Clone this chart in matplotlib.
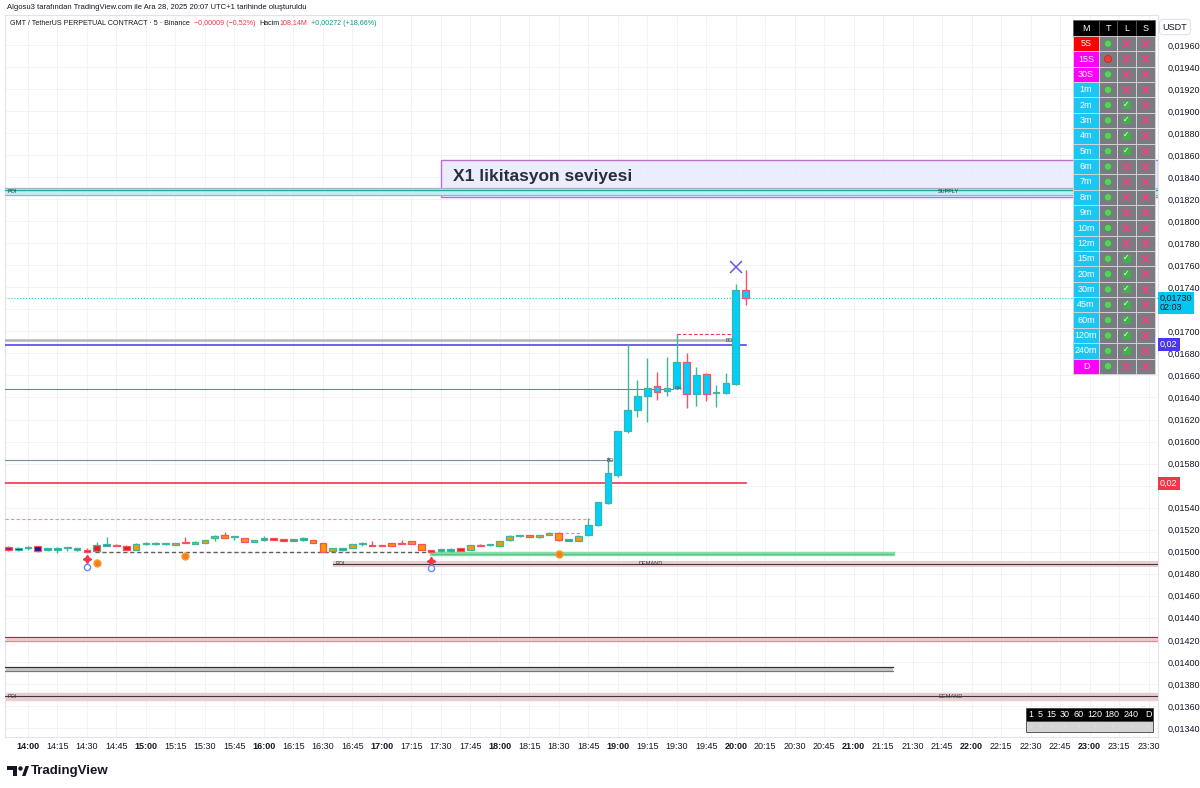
import matplotlib.pyplot as plt
from matplotlib.patches import Rectangle, Circle, Polygon
from matplotlib.transforms import blended_transform_factory
import numpy as np

plt.rcParams['font.family'] = ['Liberation Sans', 'DejaVu Sans']

W, H = 1200, 788

# 5 dakikalik mumlar, bar 0 = 14:00
bars = np.arange(-2, 74)
opens = [0.01504, 0.01502, 0.01503, 0.01505, 0.01502, 0.01502, 0.01503, 0.01502, 0.01501, 0.01501,
         0.01505, 0.01506, 0.01505, 0.01502, 0.01507, 0.01507, 0.01507, 0.01506, 0.01509, 0.01507,
         0.01508, 0.01512, 0.01515, 0.01513, 0.01512, 0.01509, 0.01511, 0.01512, 0.01511, 0.01510,
         0.01511, 0.01511, 0.01508, 0.01501, 0.01502, 0.01503, 0.01507, 0.01506, 0.01506, 0.01508,
         0.01508, 0.01510, 0.01507, 0.01502, 0.01501, 0.01501, 0.01503, 0.01502, 0.01506, 0.01506,
         0.01505, 0.01511, 0.01514, 0.01515, 0.01513, 0.01515, 0.01517, 0.01510, 0.01510, 0.01515,
         0.01524, 0.01544, 0.01570, 0.01610, 0.01629, 0.01641, 0.01650, 0.01646, 0.01649, 0.01672,
         0.01643, 0.01661, 0.01644, 0.01644, 0.01652, 0.01738]
highs = [0.01505, 0.01504, 0.01505, 0.01505, 0.01503, 0.01504, 0.01504, 0.01503, 0.01503, 0.01509,
         0.01513, 0.01507, 0.01506, 0.01508, 0.01509, 0.01509, 0.01508, 0.01508, 0.01513, 0.01510,
         0.01511, 0.01515, 0.01518, 0.01514, 0.01512, 0.01511, 0.01514, 0.01512, 0.01511, 0.01511,
         0.01513, 0.01511, 0.01508, 0.01503, 0.01503, 0.01507, 0.01509, 0.01510, 0.01506, 0.01508,
         0.01511, 0.01510, 0.01507, 0.01502, 0.01502, 0.01503, 0.01503, 0.01506, 0.01507, 0.01506,
         0.01510, 0.01515, 0.01515, 0.01515, 0.01515, 0.01518, 0.01518, 0.01511, 0.01515, 0.01531,
         0.01545, 0.01586, 0.01610, 0.01689, 0.01656, 0.01676, 0.01663, 0.01677, 0.01698, 0.01680,
         0.01668, 0.01662, 0.01651, 0.01662, 0.01743, 0.01756]
lows = [0.01501, 0.01501, 0.01502, 0.01500, 0.01501, 0.01499, 0.01501, 0.01501, 0.01499, 0.01501,
        0.01505, 0.01505, 0.01502, 0.01502, 0.01506, 0.01506, 0.01506, 0.01506, 0.01508, 0.01507,
        0.01508, 0.01510, 0.01512, 0.01511, 0.01509, 0.01509, 0.01510, 0.01511, 0.01510, 0.01510,
        0.01510, 0.01508, 0.01500, 0.01501, 0.01501, 0.01503, 0.01505, 0.01505, 0.01505, 0.01505,
        0.01507, 0.01507, 0.01502, 0.01499, 0.01500, 0.01500, 0.01501, 0.01502, 0.01505, 0.01505,
        0.01505, 0.01510, 0.01513, 0.01513, 0.01512, 0.01515, 0.01510, 0.01510, 0.01510, 0.01514,
        0.01523, 0.01543, 0.01568, 0.01608, 0.01622, 0.01618, 0.01638, 0.01641, 0.01648, 0.01630,
        0.01632, 0.01637, 0.01631, 0.01643, 0.01651, 0.01724]
closes = [0.01502, 0.01503, 0.01504, 0.01501, 0.01502, 0.01502, 0.01503, 0.01502, 0.01500, 0.01506,
          0.01507, 0.01505, 0.01502, 0.01507, 0.01507, 0.01507, 0.01507, 0.01508, 0.01508, 0.01509,
          0.01511, 0.01514, 0.01512, 0.01513, 0.01509, 0.01511, 0.01511, 0.01511, 0.01510, 0.01511,
          0.01511, 0.01508, 0.01500, 0.01503, 0.01502, 0.01507, 0.01507, 0.01505, 0.01505, 0.01505,
          0.01507, 0.01507, 0.01502, 0.01500, 0.01501, 0.01501, 0.01501, 0.01506, 0.01505, 0.01506,
          0.01510, 0.01514, 0.01515, 0.01513, 0.01515, 0.01517, 0.01511, 0.01510, 0.01514, 0.01524,
          0.01545, 0.01571, 0.01610, 0.01629, 0.01641, 0.01649, 0.01645, 0.01649, 0.01672, 0.01643,
          0.01660, 0.01643, 0.01645, 0.01653, 0.01738, 0.01730]
body_kind = ['p', 'n', 'n', 'n', 't', 't', 't', 't', 'r', 'r',
             'm', 'r', 'r', 'o', 't', 't', 't', 'o', 'r', 'o',
             'o', 'o', 'o', 't', 'o', 'o', 't', 'r', 'r', 'g',
             't', 'o', 'o', 'o', 't', 'o', 't', 'r', 'r', 'o',
             'r', 'o', 'o', 'r', 't', 't', 'r', 'o', 'r', 't',
             'o', 'o', 'g', 'o', 'o', 'o', 'o', 't', 'o', 'c',
             'c', 'c', 'c', 'c', 'c', 'c', 'c', 'c', 'c', 'c',
             'c', 'c', 'c', 'c', 'c', 'c']

time_labels = ['14:00', '14:15', '14:30', '14:45', '15:00', '15:15', '15:30', '15:45',
               '16:00', '16:15', '16:30', '16:45', '17:00', '17:15', '17:30', '17:45',
               '18:00', '18:15', '18:30', '18:45', '19:00', '19:15', '19:30', '19:45',
               '20:00', '20:15', '20:30', '20:45', '21:00', '21:15', '21:30', '21:45',
               '22:00', '22:15', '22:30', '22:45', '23:00', '23:15', '23:30']
price_ticks = [0.0134, 0.0136, 0.0138, 0.0140, 0.0142, 0.0144, 0.0146, 0.0148, 0.0150, 0.0152,
               0.0154, 0.0156, 0.0158, 0.0160, 0.0162, 0.0164, 0.0166, 0.0168, 0.0170, 0.0172,
               0.0174, 0.0176, 0.0178, 0.0180, 0.0182, 0.0184, 0.0186, 0.0188, 0.0190, 0.0192,
               0.0194, 0.0196]
hidden_ticks = [0.0156, 0.0172]   # fiyat etiketlerinin altinda kalanlar

# seviyeler
last_price = 0.01730
liq_box = (0.01822, 0.01856)
supply_band = (0.01824, 0.01830)
bo_level_hi = 0.01692
purple_level = 0.01688
zero_level = 0.01648
bo_level_lo = 0.01583
red_level = 0.01562
pink_level = 0.01530
mid_dash_level = 0.01517
gray_dash_level = 0.01500
green_level = 0.01498
demand_band = (0.01486, 0.01492)
red_band = (0.01419, 0.01423)
black_band = (0.01392, 0.01395)
demand_band_lo = (0.01365, 0.01372)
red_box_top = 0.01698

# tablo
tf_labels = ['5S', '15S', '30S', '1m', '2m', '3m', '4m', '5m', '6m', '7m', '8m', '9m',
             '10m', '12m', '15m', '20m', '30m', '45m', '60m', '120m', '240m', 'D']
trend_ok = [1, 0, 1, 1, 1, 1, 1, 1, 1, 1, 1, 1, 1, 1, 1, 1, 1, 1, 1, 1, 1, 1]
long_ok = [0, 0, 0, 0, 1, 1, 1, 1, 0, 0, 0, 0, 0, 0, 1, 1, 1, 1, 1, 1, 1, 0]
short_ok = [0] * 22
mini_tf = ['1', '5', '15', '30', '60', '120', '180', '240', 'D']

fills = {'p': '#7d1f7c', 'n': '#1c1a8c', 't': '#26a69a', 'r': '#f21818', 'm': '#ff12e4',
         'o': '#ff9800', 'g': '#6f9a2b', 'c': '#00d0ff'}
UP, DN = '#3fb59d', '#f7525f'

fig = plt.figure(figsize=(W / 100, H / 100), dpi=100)
ax = fig.add_axes([5 / W, 1 - 737 / H, 1153 / W, 722 / H])
ax.set_xlim((5 - 28) / 9.83, (1158 - 28) / 9.83)
ax.set_ylim(0.013318, 0.019872)

o = np.array(opens); c = np.array(closes)
edge = [UP if cc > oo else (DN if cc < oo else UP) for oo, cc in zip(o, c)]
bottoms = np.minimum(o, c)
heights = np.maximum(np.abs(c - o), 0.000012)
ax.vlines(bars, lows, highs, colors=edge, lw=1, zorder=4)
ax.bar(bars, heights, bottom=bottoms, width=0.68, color=[fills[k] for k in body_kind],
       edgecolor=edge, linewidth=0.9, zorder=5)

x0, x1 = ax.get_xlim()
# likidasyon kutusu
ax.add_patch(Rectangle((42.0, liq_box[0]), x1 - 42.0, liq_box[1] - liq_box[0],
                       fc='#e9ebfc', ec='#b160cc', lw=1, alpha=0.9, zorder=2))
ax.text(43.2, (liq_box[0] + liq_box[1]) / 2 + 0.00002, 'X1 likitasyon seviyesi', fontsize=12.5,
        fontweight='bold', color='#2a2e39', va='center', zorder=6)
# supply
ax.axhspan(supply_band[0], supply_band[1], color='#bfeef3', zorder=2.5)
ax.axhline(supply_band[1], color='#9fb4b8', lw=0.8, zorder=2.6)
ax.axhline(0.01828, color='#2aa7a7', lw=1, zorder=2.6)
ax.axhline(supply_band[0], color='#9fb4b8', lw=0.8, zorder=2.6)
ax.text(-2.1, 0.01827, 'POI', fontsize=4, color='#333', va='center', zorder=6)
ax.text(92.6, 0.01827, 'SUPPLY', fontsize=4, color='#333', va='center', zorder=6)

ax.axhline(last_price, color='#26c6da', lw=0.8, ls=':', zorder=2)
ax.plot([66, 72], [red_box_top, red_box_top], color='#f23645', lw=0.8, ls=(0, (3, 2)), zorder=3)
ax.plot([66, 66], [red_box_top, bo_level_hi], color='#f23645', lw=0.8, ls=(0, (3, 2)), zorder=3)
ax.plot([x0, 72], [bo_level_hi, bo_level_hi], color='#b0b5ba', lw=1.8, zorder=3)
ax.text(71.4, bo_level_hi, 'BO', fontsize=3.8, color='#444', va='center', ha='center', zorder=6)
ax.plot([x0, 73], [purple_level, purple_level], color='#5546e6', lw=1.2, zorder=3)
ax.plot([x0, 65.6], [zero_level, zero_level], color='#6f8a85', lw=0.8, zorder=3)
ax.text(65.8, zero_level, '0%', fontsize=3.8, color='#444', va='center', zorder=6)
ax.plot([x0, 59.4], [bo_level_lo, bo_level_lo], color='#6d8f9c', lw=0.8, zorder=3)
ax.text(59.2, bo_level_lo, 'BO', fontsize=3.8, color='#444', va='center', ha='center', zorder=6)
ax.plot([x0, 73], [red_level, red_level], color='#f23645', lw=1.2, zorder=3)
ax.plot([x0, 57.2], [pink_level, pink_level], color='#f28b95', lw=0.8, ls=(0, (3, 2)), zorder=3)
ax.plot([53.5, 56.2], [mid_dash_level, mid_dash_level], color='#a99be8', lw=0.8, ls=(0, (3, 2)), zorder=3)
ax.plot([6.8, 41.1], [gray_dash_level, gray_dash_level], color='#5e5e5e', lw=1, ls=(0, (3, 2)), zorder=3)
ax.plot([41.1, 88], [green_level, green_level], color='#86dba6', lw=3.2, zorder=3)
ax.plot([41.1, 88], [green_level, green_level], color='#4cc27c', lw=0.6, zorder=3)
# demand bantlari
ax.add_patch(Rectangle((31.0, demand_band[0]), x1 - 31.0, demand_band[1] - demand_band[0],
                       fc='#eacdd0', ec='none', zorder=2.5))
ax.plot([31.0, x1], [0.014889, 0.014889], color='#3a3a3a', lw=0.8, zorder=2.6)
ax.text(31.3, 0.014889, 'POI', fontsize=4, color='#333', va='center', zorder=6)
ax.text(62.1, 0.014889, 'DEMAND', fontsize=4, color='#333', va='center', zorder=6)
ax.axhspan(red_band[0], red_band[1], color='#f4c9cd', zorder=2.5)
ax.axhline(red_band[1], color='#8a3a44', lw=0.8, zorder=2.6)
ax.axhline(red_band[0], color='#e08a94', lw=0.8, zorder=2.6)
ax.add_patch(Rectangle((x0, black_band[0]), 88 - x0, black_band[1] - black_band[0],
                       fc='#c9c9c9', ec='none', zorder=2.5))
ax.plot([x0, 88], [black_band[1], black_band[1]], color='#333', lw=0.9, zorder=2.6)
ax.plot([x0, 88], [black_band[0], black_band[0]], color='#777', lw=0.9, zorder=2.6)
ax.axhspan(demand_band_lo[0], demand_band_lo[1], color='#eacdd0', zorder=2.5)
ax.axhline(0.013686, color='#3a3a3a', lw=0.8, zorder=2.6)
ax.text(-2.1, 0.013686, 'POI', fontsize=4, color='#333', va='center', zorder=6)
ax.text(92.6, 0.013686, 'DEMAND', fontsize=4, color='#333', va='center', zorder=6)

# sinyal isaretleri
ax.plot([72], [0.01758], marker='x', ms=8, mew=1.1, color='#6a5ae0', zorder=6)
ax.plot([6, 41], [0.01493, 0.01492], ls='none', marker=(4, 1, 0), ms=6, color='#f23645', zorder=6)
ax.plot([6, 41], [0.01486, 0.01485], ls='none', marker='o', ms=4.5, mfc='white', mec='#5c8dff',
        mew=1, zorder=6)
ax.plot([7, 16, 54], [0.01490, 0.01496, 0.01498], ls='none', marker='o', ms=5,
        color='#ff7a1a', mec='#f0a030', zorder=6)

# eksenler
ax.set_xticks(np.arange(0, 115, 3))
ax.set_xticklabels(time_labels)
for lab in ax.get_xticklabels():
    if lab.get_text().endswith(':00'):
        lab.set_fontweight('bold')
ax.tick_params(axis='x', length=0, pad=3.5, labelsize=6.5, labelcolor='#131722')
ax.yaxis.tick_right()
ax.set_yticks(price_ticks)
ax.set_yticklabels(['' if any(abs(v - h) < 1e-9 for h in hidden_ticks)
                    else f'{v:.5f}'.replace('.', ',') for v in price_ticks])
ax.tick_params(axis='y', length=0, pad=7, labelsize=6.5, labelcolor='#131722')
ax.grid(color='#f1f3f6', lw=0.7, zorder=0)
for s in ax.spines.values():
    s.set_color('#e0e3eb')
    s.set_linewidth(0.8)

# fiyat etiketleri
ov = fig.add_axes([0, 0, 1, 1], zorder=5)
ov.set_xlim(0, W)
ov.set_ylim(H, 0)
ov.axis('off')
ov.patch.set_alpha(0)
tr = blended_transform_factory(ov.transData, ax.transData)
ax.annotate('0,01730\n02:03', xy=(1160, last_price), xycoords=tr, xytext=(0, -3.3),
            textcoords='offset points', fontsize=6.5, color='#131722', va='center', ha='left',
            linespacing=1.05, annotation_clip=False, zorder=7,
            bbox=dict(boxstyle='square,pad=0.2', fc='#00c8f0', ec='none'))
ax.text(1160, purple_level, '0,02', transform=tr, fontsize=6.5, color='white', va='center',
        ha='left', clip_on=False, zorder=7,
        bbox=dict(boxstyle='square,pad=0.25', fc='#4d36f0', ec='none'))
ax.text(1160, red_level, '0,02', transform=tr, fontsize=6.5, color='white', va='center',
        ha='left', clip_on=False, zorder=7,
        bbox=dict(boxstyle='square,pad=0.25', fc='#f23645', ec='none'))
ov.text(1175, 27, 'USDT', fontsize=6.5, color='#131722', ha='center', va='center',
        bbox=dict(boxstyle='round,pad=0.35', fc='white', ec='#e0e3eb', lw=0.8))

# basliklar
fig.canvas.draw()
rend = fig.canvas.get_renderer()
ov.text(7, 7, 'Algosu3 tarafından TradingView.com ile Ara 28, 2025 20:07 UTC+1 tarihinde oluşturuldu',
        fontsize=5.5, color='#131722', va='center')
hx = 10
for part, col, gap in [('GMT / TetherUS PERPETUAL CONTRACT · 5 · Binance', '#131722', 4),
                       ('−0,00009 (−0,52%)', '#f23645', 4),
                       ('Hacim', '#131722', 0),
                       ('108,14M', '#f23645', 4),
                       ('+0,00272 (+18,66%)', '#089981', 0)]:
    t = ov.text(hx, 23, part, fontsize=5.1, color=col, va='center')
    hx += t.get_window_extent(renderer=rend).width + gap

# logo
ov.add_patch(Polygon([[7, 766], [17, 766], [17, 776], [13, 776], [13, 770], [7, 770]], closed=True,
                     fc='#131722', ec='none'))
ov.add_patch(Circle((20.5, 768.5), 2.2, fc='#131722', ec='none'))
ov.add_patch(Polygon([[22, 776], [25.5, 766], [29, 766], [25.5, 776]], closed=True,
                     fc='#131722', ec='none'))
ov.text(31, 771, 'TradingView', fontsize=9.5, fontweight='bold', color='#131722', va='center')

# sag tablo
cols = [1073, 1099, 1117, 1136, 1155]
row_h = 15.36


def cross(cx, cy, size=3.2):
    ov.plot([cx - size, cx + size], [cy - size, cy + size], color='#ff3d7f', lw=1.1,
            solid_capstyle='round')
    ov.plot([cx - size, cx + size], [cy + size, cy - size], color='#ff3d7f', lw=1.1,
            solid_capstyle='round')


for i, name in enumerate(['M', 'T', 'L', 'S']):
    ov.add_patch(Rectangle((cols[i], 20), cols[i + 1] - cols[i], 16, fc='black', ec='#555', lw=0.5))
    ov.text((cols[i] + cols[i + 1]) / 2, 28, name, fontsize=6.5, color='white', ha='center',
            va='center')
for k, tf in enumerate(tf_labels):
    y = 36 + row_h * k
    cy = y + row_h / 2
    if tf == '5S':
        mc = '#ff0000'
    elif tf in ('15S', '30S', 'D'):
        mc = '#ff00ff'
    else:
        mc = '#1cc6f2'
    ov.add_patch(Rectangle((cols[0], y), cols[1] - cols[0], row_h, fc=mc, ec='#d8d8d8', lw=0.6))
    ov.text((cols[0] + cols[1]) / 2, cy, tf, fontsize=6.5, color='white', ha='center', va='center')
    for j in range(1, 4):
        ov.add_patch(Rectangle((cols[j], y), cols[j + 1] - cols[j], row_h, fc='#7b7b83',
                               ec='#d8d8d8', lw=0.6))
    tx = (cols[1] + cols[2]) / 2
    ov.add_patch(Circle((tx, cy), 3.6, fc='#5ad05e' if trend_ok[k] else '#f03a3a',
                        ec='#3a9a3e' if trend_ok[k] else '#b02020', lw=0.4))
    lx = (cols[2] + cols[3]) / 2
    if long_ok[k]:
        ov.add_patch(Rectangle((lx - 4, cy - 4), 8, 8, fc='#3fb24a', ec='none'))
        ov.text(lx, cy, '✓', fontsize=5.5, color='white', ha='center', va='center')
    else:
        cross(lx, cy)
    sx = (cols[3] + cols[4]) / 2
    if short_ok[k]:
        ov.add_patch(Rectangle((sx - 4, cy - 4), 8, 8, fc='#3fb24a', ec='none'))
        ov.text(sx, cy, '✓', fontsize=5.5, color='white', ha='center', va='center')
    else:
        cross(sx, cy)

# alt tablo
ov.add_patch(Rectangle((1026, 708), 127, 13, fc='black', ec='#444', lw=0.6))
ov.add_patch(Rectangle((1026, 721), 127, 11, fc='#d4d4d4', ec='#444', lw=0.6))
mini_x = [1031, 1040, 1051, 1065, 1079, 1095, 1112, 1131, 1148]
for mx, lab in zip(mini_x, mini_tf):
    ov.text(mx, 714.5, lab, fontsize=6.5, color='white', ha='center', va='center')
    ov.text(mx, 726.5, '-', fontsize=6, color='#f4f4f4', ha='center', va='center')

fig.savefig('out.png', dpi=100, facecolor='white')
